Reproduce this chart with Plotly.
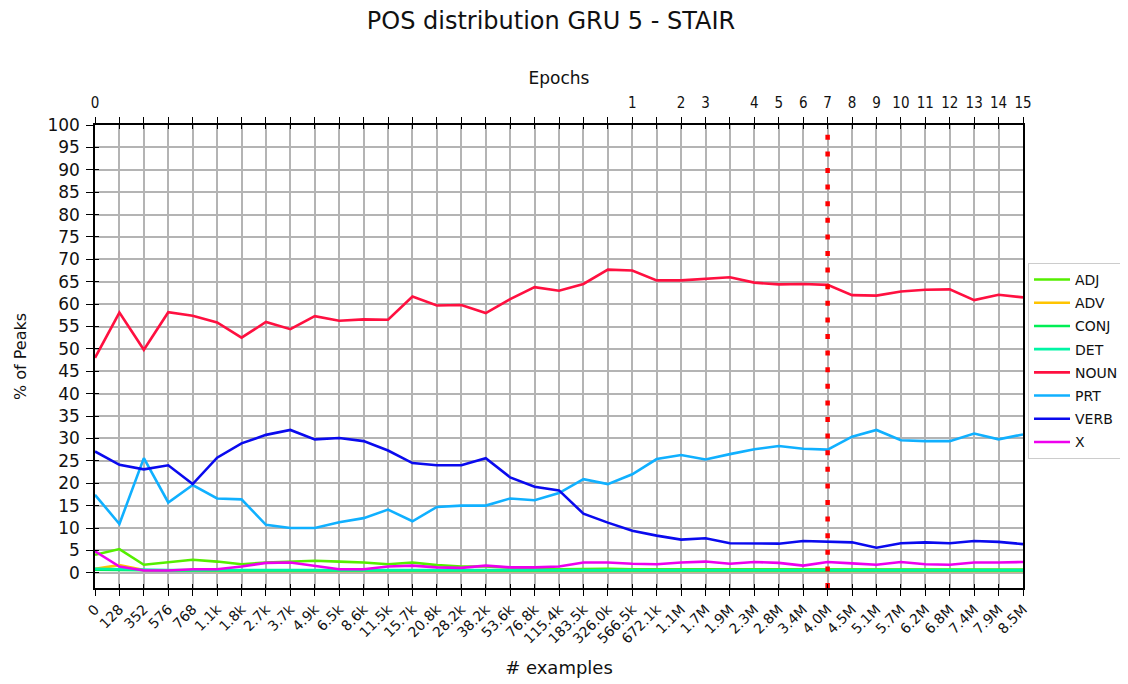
import plotly.graph_objects as go

# ---------------- data ----------------
examples = ["0", "128", "352", "576", "768", "1.1k", "1.8k", "2.7k", "3.7k", "4.9k",
            "6.5k", "8.6k", "11.5k", "15.7k", "20.8k", "28.2k", "38.2k", "53.6k", "76.8k",
            "115.4k", "183.5k", "326.0k", "566.5k", "672.1k", "1.1M", "1.7M", "1.9M", "2.3M",
            "2.8M", "3.4M", "4.0M", "4.5M", "5.1M", "5.7M", "6.2M", "6.8M", "7.4M", "7.9M", "8.5M"]

epoch_positions = [0, 22, 24, 25, 27, 28, 29, 30, 31, 32, 33, 34, 35, 36, 37, 38]
epoch_labels = ["0", "1", "2", "3", "4", "5", "6", "7", "8", "9", "10", "11", "12", "13", "14", "15"]

best_epoch_index = 30

ADJ = [4.0, 5.3, 1.8, 2.3, 2.9, 2.5, 1.9, 2.3, 2.5, 2.7, 2.5, 2.3, 1.9, 2.3, 1.7, 1.4, 1.4, 1.1, 0.9,
       0.8, 0.9, 0.9, 0.8, 0.8, 0.8, 0.8, 0.7, 0.7, 0.7, 0.7, 0.7, 0.7, 0.7, 0.7, 0.7, 0.7, 0.7, 0.7, 0.7]
ADV = [0.9, 1.7, 0.6, 0.5, 0.4, 0.4, 0.4, 0.4, 0.4, 0.4, 0.4, 0.4, 0.4, 0.4, 0.4, 0.4, 0.4, 0.4, 0.4,
       0.4, 0.4, 0.4, 0.4, 0.4, 0.4, 0.4, 0.4, 0.4, 0.4, 0.4, 0.4, 0.4, 0.4, 0.4, 0.4, 0.4, 0.4, 0.4, 0.4]
CONJ = [0.7, 0.6, 0.5, 0.5, 0.5, 0.5, 0.5, 0.5, 0.5, 0.5, 0.5, 0.5, 0.5, 0.5, 0.5, 0.5, 0.5, 0.5, 0.5,
        0.5, 0.5, 0.5, 0.5, 0.5, 0.5, 0.5, 0.5, 0.5, 0.5, 0.5, 0.5, 0.5, 0.5, 0.5, 0.5, 0.5, 0.5, 0.5, 0.5]
DET = [0.9, 0.8, 0.6, 0.6, 0.6, 0.6, 0.6, 0.6, 0.6, 0.6, 0.6, 0.6, 0.6, 0.6, 0.6, 0.6, 0.6, 0.6, 0.6,
       0.6, 0.6, 0.6, 0.6, 0.6, 0.6, 0.6, 0.6, 0.6, 0.6, 0.6, 0.6, 0.6, 0.6, 0.6, 0.6, 0.6, 0.6, 0.6, 0.6]
NOUN = [48.0, 58.1, 49.8, 58.2, 57.4, 55.9, 52.5, 56.0, 54.4, 57.3, 56.3, 56.6, 56.5, 61.7, 59.7, 59.8,
        58.0, 61.1, 63.8, 63.0, 64.5, 67.7, 67.5, 65.3, 65.3, 65.7, 66.0, 64.8, 64.4, 64.5, 64.3, 62.0,
        61.9, 62.8, 63.2, 63.3, 60.9, 62.1, 61.5]
PRT = [17.4, 10.9, 25.6, 15.7, 19.6, 16.6, 16.4, 10.7, 10.0, 10.0, 11.3, 12.2, 14.1, 11.5, 14.7, 15.0,
       15.0, 16.6, 16.2, 17.8, 20.9, 19.8, 22.0, 25.4, 26.3, 25.3, 26.5, 27.6, 28.3, 27.7, 27.5, 30.4,
       31.9, 29.6, 29.4, 29.4, 31.1, 29.8, 30.9]
VERB = [27.1, 24.1, 23.1, 24.0, 19.8, 25.7, 28.9, 30.8, 31.9, 29.8, 30.1, 29.4, 27.3, 24.5, 24.0, 24.0,
        25.6, 21.3, 19.2, 18.4, 13.2, 11.2, 9.4, 8.3, 7.4, 7.7, 6.6, 6.5, 6.5, 7.1, 6.9, 6.8, 5.6, 6.6,
        6.8, 6.6, 7.1, 6.9, 6.4]
X = [4.8, 1.4, 0.5, 0.5, 0.8, 0.8, 1.4, 2.2, 2.3, 1.6, 0.8, 0.8, 1.4, 1.6, 1.2, 1.1, 1.6, 1.2, 1.2,
     1.4, 2.3, 2.3, 2.0, 1.9, 2.3, 2.5, 2.0, 2.4, 2.2, 1.6, 2.4, 2.1, 1.8, 2.4, 1.9, 1.8, 2.3, 2.3, 2.4]

series_names = ["ADJ", "ADV", "CONJ", "DET", "NOUN", "PRT", "VERB", "X"]
series_values = [ADJ, ADV, CONJ, DET, NOUN, PRT, VERB, X]
series_colors = ["#55ee00", "#ffc400", "#00ee55", "#00f5a5", "#ff1040", "#10b0ff", "#0a0aee", "#ee00ee"]

y_ticks = list(range(0, 101, 5))
y_min, y_max = -3.4, 100

# ---------------- figure ----------------
xs = list(range(len(examples)))
fig = go.Figure()
for name, vals, col in zip(series_names, series_values, series_colors):
    fig.add_trace(go.Scatter(x=xs, y=vals, mode="lines", name=name, legendgroup=name,
                             line=dict(color=col, width=2.6)))

fig.add_trace(go.Scatter(x=[best_epoch_index, best_epoch_index], y=[y_min, y_max], mode="lines",
                         showlegend=False, hoverinfo="skip",
                         line=dict(color="#ff0000", width=4.5, dash="5px,11.6px")))

# empty helper traces so that the overlay axes (top epochs axis, tick duplicates) are drawn
for xa, ya in [("x2", "y"), ("x3", "y"), ("x4", "y"), ("x", "y2"), ("x", "y3")]:
    fig.add_trace(go.Scatter(x=[], y=[], xaxis=xa, yaxis=ya, showlegend=False, hoverinfo="skip"))

font_main = "DejaVu Sans, Verdana, sans-serif"
font_cond = "DejaVu Sans Condensed, DejaVu Sans, sans-serif"
x_range = [0, len(examples) - 1]

fig.update_layout(
    width=1128, height=684,
    paper_bgcolor="white", plot_bgcolor="white",
    margin=dict(l=87, r=111, t=117, b=104),
    title=dict(text="POS distribution GRU 5 - STAIR", x=0.4814, xanchor="center", y=0.994,
               yanchor="top", pad=dict(t=0, b=0, l=0, r=0),
               font=dict(family=font_main, size=24, color="#111111")),
    font=dict(family=font_main, color="#111111"),
    xaxis=dict(range=x_range, showline=True, linecolor="black", linewidth=1.5, zeroline=False,
               tickmode="array", tickvals=xs, ticktext=examples, tickangle=-45,
               ticks="outside", ticklen=6, tickcolor="black", tickwidth=1.3,
               showgrid=True, gridcolor="#b4b4b4", gridwidth=1.6,
               tickfont=dict(size=14, family=font_main, color="#111111"),
               title=dict(text="# examples", font=dict(size=18, family=font_main), standoff=16)),
    xaxis2=dict(range=x_range, overlaying="x", anchor="y", side="top", showline=True,
                linecolor="black", linewidth=1.5, zeroline=False, showgrid=False,
                tickmode="array", tickvals=xs,
                ticktext=[epoch_labels[epoch_positions.index(i)] if i in epoch_positions else ""
                          for i in xs],
                tickangle=0, ticks="outside", ticklen=6, tickcolor="black", tickwidth=1.3,
                ticklabelstandoff=3,
                tickfont=dict(size=15, family=font_cond, color="#111111"),
                title=dict(text="Epochs", font=dict(size=17, family=font_main), standoff=5)),
    xaxis3=dict(range=x_range, overlaying="x", anchor="y", side="bottom", showline=False,
                zeroline=False, showgrid=False, tickmode="array", tickvals=xs,
                showticklabels=False, ticks="inside", ticklen=4, tickcolor="black", tickwidth=1.3),
    xaxis4=dict(range=x_range, overlaying="x", anchor="y", side="top", showline=False,
                zeroline=False, showgrid=False, tickmode="array", tickvals=xs,
                showticklabels=False, ticks="inside", ticklen=4, tickcolor="black", tickwidth=1.3),
    yaxis=dict(range=[y_min, y_max], tickmode="array", tickvals=y_ticks, ticks="outside",
               ticklen=7, tickcolor="black", tickwidth=1.3, showline=True, linecolor="black",
               linewidth=1.5, showgrid=True, gridcolor="#b4b4b4", gridwidth=1.6, zeroline=False,
               ticklabelstandoff=3,
               tickfont=dict(size=17, family=font_main, color="#111111"),
               title=dict(text="% of Peaks", font=dict(size=16, family=font_main), standoff=17)),
    yaxis2=dict(range=[y_min, y_max], overlaying="y", anchor="x", side="right", tickmode="array",
                tickvals=[], showline=True, linecolor="black", linewidth=1.5, showgrid=False,
                zeroline=False),
    yaxis3=dict(range=[y_min, y_max], overlaying="y", anchor="x", side="left", tickmode="array",
                tickvals=y_ticks, showticklabels=False, ticks="inside", ticklen=4,
                tickcolor="black", tickwidth=1.3, showline=False, showgrid=False, zeroline=False),
    legend=dict(x=1.0054, y=0.702, xanchor="left", yanchor="top", bordercolor="#cccccc",
                borderwidth=1, bgcolor="white", font=dict(size=14, family=font_main),
                tracegroupgap=2, itemwidth=36),
    showlegend=True,
)

fig.write_html("out.html")
